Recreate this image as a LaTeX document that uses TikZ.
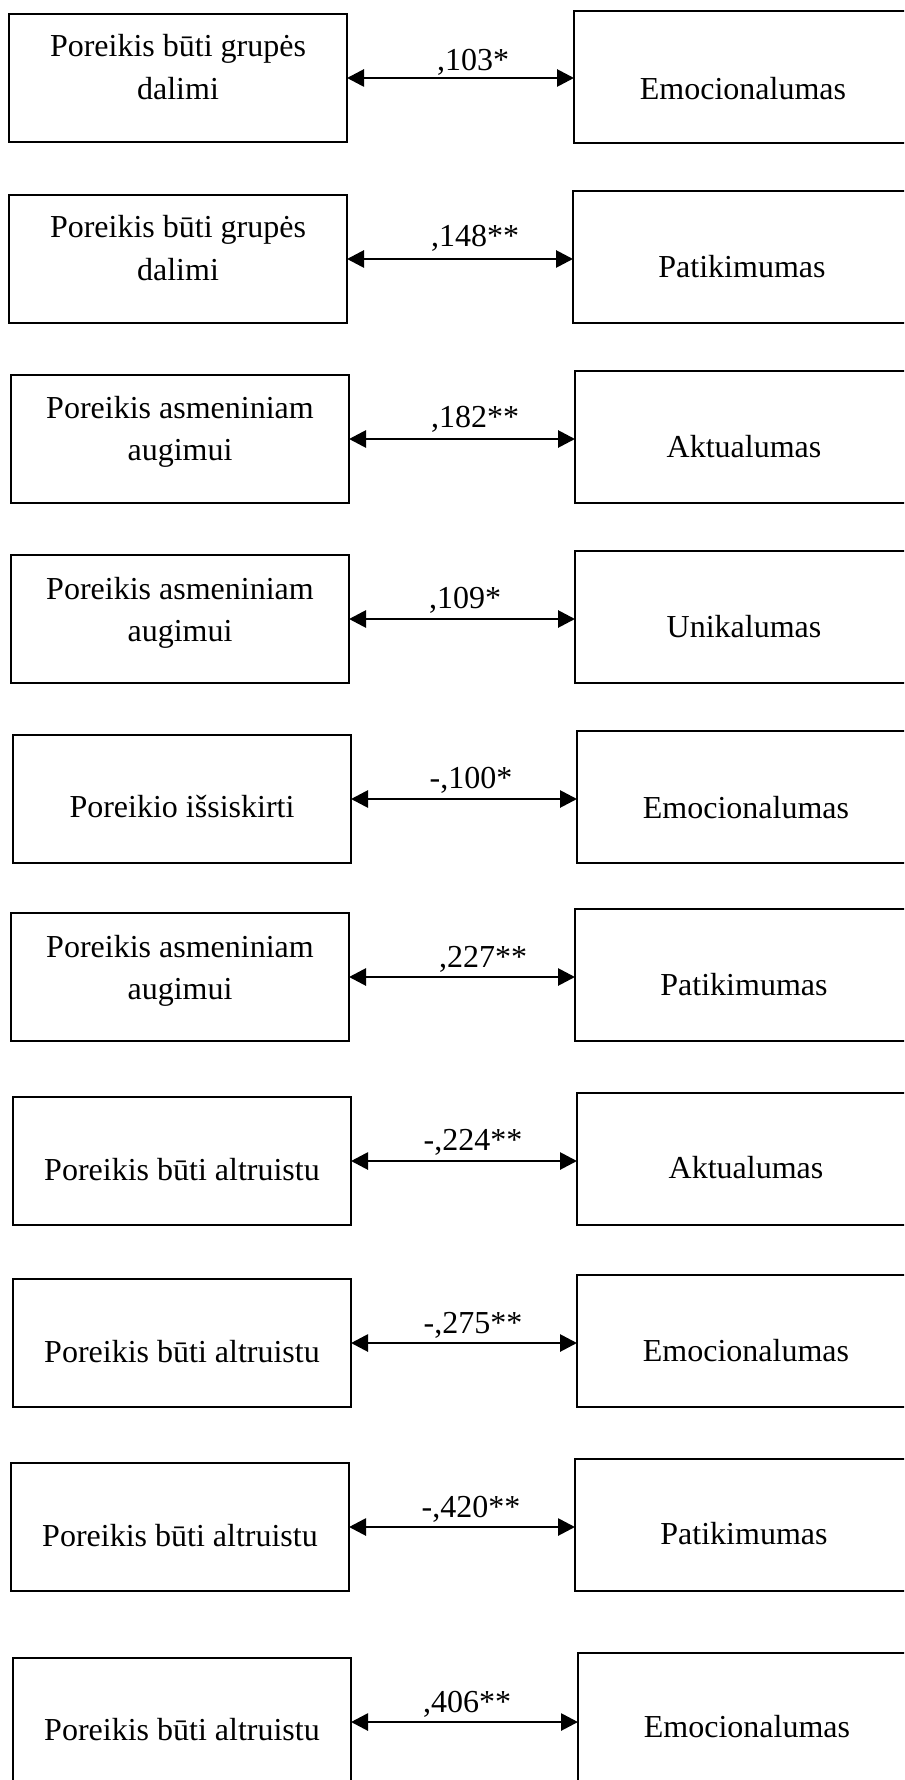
\documentclass[tikz,border=0pt]{standalone}
\usepackage{fontspec}
\setmainfont{Liberation Serif}
\usetikzlibrary{arrows.meta}
\begin{document}
\begin{tikzpicture}[x=0.5pt,y=-0.5pt,
  lbox/.style={draw=black, line width=0.6pt, rectangle, inner sep=0pt, outer sep=0pt,
               minimum width=169pt, minimum height=64pt, anchor=north west},
  rbox/.style={lbox, minimum height=66pt},
  txt/.style={anchor=base, inner sep=0pt, font=\fontsize{16}{19.5}\selectfont},
  link/.style={line width=1.4pt,
               {Triangle[length=8.5pt,width=8.5pt]}-{Triangle[length=8.5pt,width=8.5pt]}},
]
\useasboundingbox (0,0) rectangle (904,1780);
\clip (0,0) rectangle (904,1780);

% 1
\node[lbox] (L1) at (9,14) {};
\node[rbox] (R1) at (574,11) {};
\node[txt] (L1a) at (178,57) {Poreikis būti grupės};
\node[txt] (L1b) at (178,100) {dalimi};
\node[txt] (R1t) at (743,100) {Emocionalumas};
\draw[link] (L1.east) -- (R1.west |- L1.east);
\node[txt] (c1) at (473,71) {,103*};

% 2
\node[lbox] (L2) at (9,195) {};
\node[rbox] (R2) at (573,191) {};
\node[txt] (L2a) at (178,238) {Poreikis būti grupės};
\node[txt] (L2b) at (178,281) {dalimi};
\node[txt] (R2t) at (742,278) {Patikimumas};
\draw[link] (L2.east) -- (R2.west |- L2.east);
\node[txt] (c2) at (475,247) {,148**};

% 3
\node[lbox] (L3) at (11,375) {};
\node[rbox] (R3) at (575,371) {};
\node[txt] (L3a) at (180,419) {Poreikis asmeniniam};
\node[txt] (L3b) at (180,461) {augimui};
\node[txt] (R3t) at (744,458) {Aktualumas};
\draw[link] (L3.east) -- (R3.west |- L3.east);
\node[txt] (c3) at (475,428) {,182**};

% 4
\node[lbox] (L4) at (11,555) {};
\node[rbox] (R4) at (575,551) {};
\node[txt] (L4a) at (180,599) {Poreikis asmeniniam};
\node[txt] (L4b) at (180,641) {augimui};
\node[txt] (R4t) at (744,637) {Unikalumas};
\draw[link] (L4.east) -- (R4.west |- L4.east);
\node[txt] (c4) at (465,608) {,109*};

% 5
\node[lbox] (L5) at (13,735) {};
\node[rbox] (R5) at (577,731) {};
\node[txt] (L5a) at (182,817) {Poreikio išsiskirti};
\node[txt] (R5t) at (746,818) {Emocionalumas};
\draw[link] (L5.east) -- (R5.west |- L5.east);
\node[txt] (c5) at (471,788) {-,100*};

% 6
\node[lbox] (L6) at (11,913) {};
\node[rbox] (R6) at (575,909) {};
\node[txt] (L6a) at (180,957) {Poreikis asmeniniam};
\node[txt] (L6b) at (180,999) {augimui};
\node[txt] (R6t) at (744,995) {Patikimumas};
\draw[link] (L6.east) -- (R6.west |- L6.east);
\node[txt] (c6) at (483,967) {,227**};

% 7
\node[lbox] (L7) at (13,1097) {};
\node[rbox] (R7) at (577,1093) {};
\node[txt] (L7a) at (182,1180) {Poreikis būti altruistu};
\node[txt] (R7t) at (746,1178) {Aktualumas};
\draw[link] (L7.east) -- (R7.west |- L7.east);
\node[txt] (c7) at (473,1150) {-,224**};

% 8
\node[lbox] (L8) at (13,1279) {};
\node[rbox] (R8) at (577,1275) {};
\node[txt] (L8a) at (182,1362) {Poreikis būti altruistu};
\node[txt] (R8t) at (746,1361) {Emocionalumas};
\draw[link] (L8.east) -- (R8.west |- L8.east);
\node[txt] (c8) at (473,1333) {-,275**};

% 9
\node[lbox] (L9) at (11,1463) {};
\node[rbox] (R9) at (575,1459) {};
\node[txt] (L9a) at (180,1546) {Poreikis būti altruistu};
\node[txt] (R9t) at (744,1544) {Patikimumas};
\draw[link] (L9.east) -- (R9.west |- L9.east);
\node[txt] (c9) at (471,1517) {-,420**};

% 10
\node[lbox] (L10) at (13,1658) {};
\node[rbox] (R10) at (578,1653) {};
\node[txt] (L10a) at (182,1740) {Poreikis būti altruistu};
\node[txt] (R10t) at (747,1737) {Emocionalumas};
\draw[link] (L10.east) -- (R10.west |- L10.east);
\node[txt] (c10) at (467,1712) {,406**};
\end{tikzpicture}
\end{document}
